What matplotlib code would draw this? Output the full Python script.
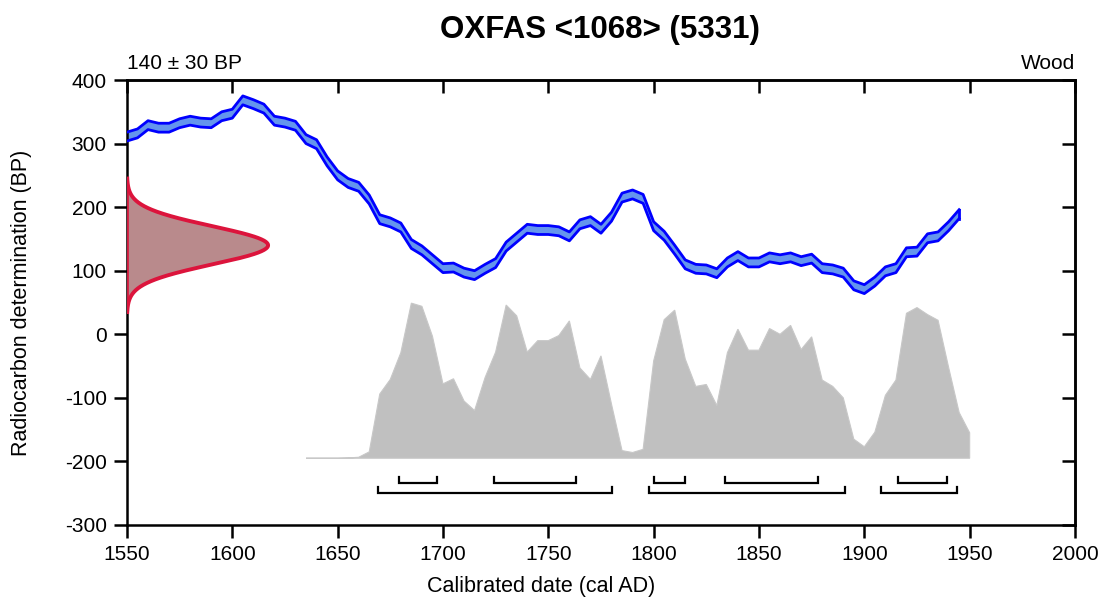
"""OxCal-style single date calibration plot for OXFAS <1068> (5331)."""

import numpy as np
import matplotlib
matplotlib.use("Agg")
import matplotlib.pyplot as plt

plt.rcParams["font.family"] = ["Liberation Sans", "DejaVu Sans"]
plt.rcParams["axes.unicode_minus"] = False

# ── Calibration curve (cal AD, BP), 5-year steps ──
curve_years = list(range(1550, 1950, 5))
curve_bp = [311, 316, 329, 325, 325, 332, 336, 333, 332, 343,
            347, 368, 362, 355, 336, 333, 328, 307, 299, 272,
            250, 238, 232, 212, 181, 176, 168, 142, 132, 118,
            104, 105, 97, 93, 103, 112, 138, 152, 166, 164,
            164, 162, 154, 173, 178, 166, 185, 215, 220, 213,
            170, 155, 133, 110, 103, 102, 96, 113, 123, 113,
            113, 121, 118, 121, 115, 119, 104, 102, 97, 77,
            71, 83, 99, 104, 129, 130, 151, 154, 170, 189]
curve_err = 7

# ── Radiocarbon determination ──
c14_mean = 140
c14_sd = 30

# ── Calibrated probability distribution (relative, 5-year steps) ──
prob_years = list(range(1635, 1955, 5))
prob = [0, 0, 0, 0, 0.5, 1.5, 10,
        101, 124, 166, 244, 239, 192, 117, 125, 90, 75,
        127, 167, 241, 224, 167, 185, 185, 193, 216, 142,
        124, 161, 85, 12, 9, 14, 153, 218, 233, 156,
        113, 116, 83, 166, 203, 170, 170, 204, 195, 209,
        171, 191, 123, 113, 95, 30, 18, 41, 99, 123,
        228, 237, 226, 217, 143, 72, 40]

# ── Highest probability ranges ──
range_68 = [(1679, 1697), (1724, 1763), (1800, 1815), (1834, 1878), (1916, 1939)]
range_95 = [(1669, 1780), (1798, 1891), (1908, 1944)]

fig = plt.figure(figsize=(11.01, 6.03), dpi=100)
ax = fig.add_axes([0.1153, 0.1294, 0.8611, 0.7379])

# calibration curve band
cy = np.array(curve_years)
cb = np.array(curve_bp)
ax.fill_between(cy, cb - curve_err, cb + curve_err, color="#6495ED", lw=0, zorder=2)
ax.plot(cy, cb + curve_err, color="#0000FF", lw=2.0, zorder=3)
ax.plot(cy, cb - curve_err, color="#0000FF", lw=2.0, zorder=3)
ax.plot([cy[-1], cy[-1]], [cb[-1] - curve_err, cb[-1] + curve_err], color="#0000FF", lw=2.0, zorder=3)

# measurement gaussian on the y axis
yy = np.linspace(c14_mean - 3.5 * c14_sd, c14_mean + 3.5 * c14_sd, 300)
dens = np.exp(-0.5 * ((yy - c14_mean) / c14_sd) ** 2)
gx = 1550 + 67 * dens
ax.fill_betweenx(yy, 1550, gx, color="#B98A8C", lw=0, zorder=4)
ax.plot(gx, yy, color="#DC143C", lw=2.8, zorder=5)
ax.plot([1550.6, 1550.6], [yy[0], yy[-1]], color="#DC143C", lw=1.2, zorder=5)

# calibrated distribution
base = -195
py = np.array(prob_years)
pv = base + np.array(prob)
poly_x = np.concatenate([py, [py[-1], py[0]]])
poly_y = np.concatenate([pv, [base, base]])
ax.fill(poly_x, poly_y, facecolor="#C0C0C0", edgecolor="#C8C8C8", lw=0.8, zorder=1)

# range brackets
for rows, yb in ((range_68, -234), (range_95, -250)):
    for a, b in rows:
        ax.plot([a, a, b, b], [yb + 9, yb, yb, yb + 9], color="black", lw=1.6,
                solid_joinstyle="miter", zorder=3)

ax.set_xlim(1550, 2000)
ax.set_ylim(-300, 400)
ax.set_xticks(range(1550, 2001, 50))
ax.set_yticks(range(-300, 401, 100))
ax.tick_params(direction="out", length=9.5, width=1.8, labelsize=15, pad=5)
for s in ax.spines.values():
    s.set_linewidth(1.8)

sx = ax.secondary_xaxis("top")
sx.set_xticks(range(1550, 2001, 50))
sx.tick_params(direction="in", length=9.5, width=1.8, labeltop=False)
sx.spines["top"].set_linewidth(1.8)
sy = ax.secondary_yaxis("right")
sy.set_yticks(range(-300, 401, 100))
sy.tick_params(direction="in", length=9.5, width=1.8, labelright=False)
sy.spines["right"].set_linewidth(1.8)

ax.set_xlabel("Calibrated date (cal AD)", fontsize=15.5)
ax.xaxis.set_label_coords(0.437, -0.115)
ax.set_ylabel("Radiocarbon determination (BP)", fontsize=15.5)
ax.yaxis.set_label_coords(-0.100, 0.5)
fig.text(0.545, 0.95, "OXFAS <1068> (5331)", fontsize=22.5, fontweight="bold",
         ha="center", va="center")
ax.text(0, 1.015, "140 \u00b1 30 BP", transform=ax.transAxes, fontsize=15,
        ha="left", va="bottom")
ax.text(1, 1.015, "Wood", transform=ax.transAxes, fontsize=15,
        ha="right", va="bottom")

fig.savefig("out.png", dpi=100)
